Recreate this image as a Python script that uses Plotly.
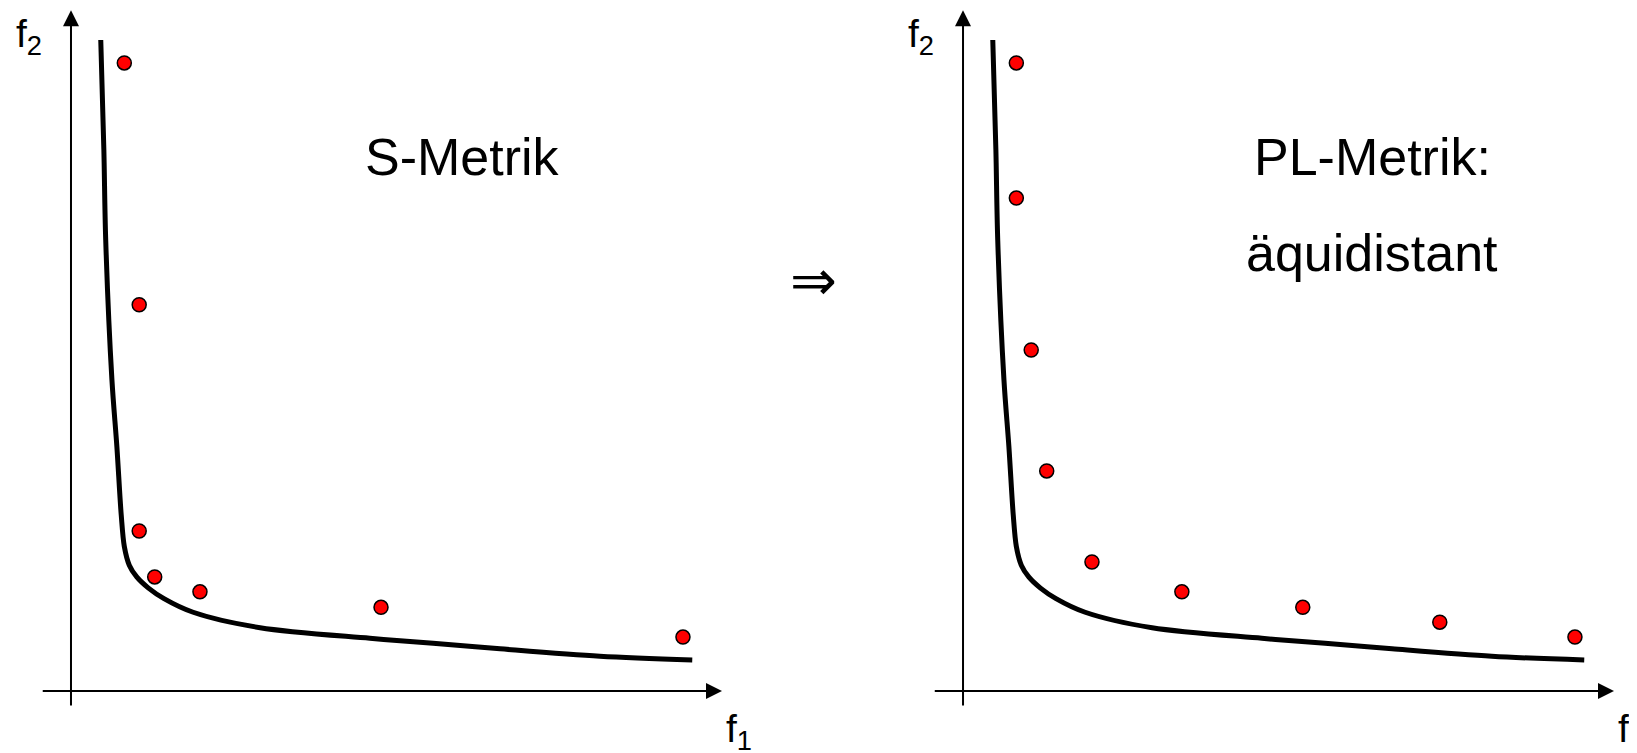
import plotly.graph_objects as go

# Pareto-Front (gleiche Form in beiden Teilbildern), Einheiten: f1 / f2
front_f1 = [0.48, 0.53, 0.56, 0.66, 0.74, 0.81, 0.86, 0.94, 1.06, 1.25, 1.50, 1.97,
            3.05, 4.82, 5.84, 6.92, 8.53, 10.02]
front_f2 = [10.50, 8.73, 7.27, 5.02, 3.94, 2.84, 2.33, 2.03, 1.84, 1.66, 1.49, 1.27,
            1.02, 0.85, 0.77, 0.68, 0.56, 0.50]

# Punkte nach S-Metrik
s_f1 = [0.86, 1.10, 1.10, 1.35, 2.08, 5.00, 9.87]
s_f2 = [10.13, 6.23, 2.58, 1.84, 1.60, 1.35, 0.87]

# Punkte nach PL-Metrik (äquidistant)
pl_f1 = [0.86, 0.86, 1.10, 1.35, 2.08, 3.53, 5.48, 7.69, 9.87]
pl_f2 = [10.13, 7.95, 5.50, 3.55, 2.08, 1.60, 1.35, 1.11, 0.87]

FONT = "Liberation Sans, Arial, sans-serif"

fig = go.Figure()

for xa, ya, px, py in [("x", "y", s_f1, s_f2), ("x2", "y2", pl_f1, pl_f2)]:
    fig.add_trace(go.Scatter(x=front_f1, y=front_f2, mode="lines",
                             line=dict(color="black", width=5, shape="spline", smoothing=0.9),
                             xaxis=xa, yaxis=ya, hoverinfo="skip"))
    fig.add_trace(go.Scatter(x=px, y=py, mode="markers",
                             marker=dict(color="#ff0000", size=14,
                                         line=dict(color="black", width=1.5)),
                             xaxis=xa, yaxis=ya))

annotations = []
for xr, yr, label, lx in [("x", "y", "S-Metrik", 6.32), ("x2", "y2", "PL-Metrik:", 6.6)]:
    # Koordinatenachsen mit Pfeilspitze
    annotations.append(dict(x=10.5, y=0, ax=-0.48, ay=0, xref=xr, yref=yr,
                            axref=xr, ayref=yr, showarrow=True, arrowhead=2,
                            arrowsize=1.6, arrowwidth=2, arrowcolor="black", text=""))
    annotations.append(dict(x=0, y=10.98, ax=0, ay=-0.26, xref=xr, yref=yr,
                            axref=xr, ayref=yr, showarrow=True, arrowhead=2,
                            arrowsize=1.6, arrowwidth=2, arrowcolor="black", text=""))
    annotations.append(dict(x=-0.67, y=10.55, xref=xr, yref=yr, showarrow=False,
                            text="f<sub>2</sub>", font=dict(size=39, family=FONT, color="black")))
    annotations.append(dict(x=10.78, y=-0.66, xref=xr, yref=yr, showarrow=False,
                            text="f<sub>1</sub>", font=dict(size=39, family=FONT, color="black")))
    annotations.append(dict(x=lx, y=8.62, xref=xr, yref=yr, showarrow=False,
                            text=label, font=dict(size=52, family=FONT, color="black")))

annotations.append(dict(x=6.6, y=7.07, xref="x2", yref="y2", showarrow=False,
                        text="äquidistant", font=dict(size=52, family=FONT, color="black")))
annotations.append(dict(x=805 / 1637, y=1 - 272 / 753, xref="paper", yref="paper",
                        showarrow=False,
                        text="⇒", font=dict(size=56, family="DejaVu Sans", color="black")))

hidden = dict(visible=False, showgrid=False, zeroline=False)
fig.update_layout(
    width=1637,
    height=753,
    margin=dict(l=0, r=0, t=0, b=0),
    plot_bgcolor="white",
    paper_bgcolor="white",
    showlegend=False,
    annotations=annotations,
    xaxis=dict(domain=[0, 818 / 1637], range=[-1.016, 12.177], **hidden),
    yaxis=dict(domain=[0, 1], range=[-1.129, 11.016], **hidden),
    xaxis2=dict(domain=[818 / 1637, 1], range=[-2.210, 11.0], **hidden),
    yaxis2=dict(domain=[0, 1], range=[-1.129, 11.016], anchor="x2", **hidden),
)

fig.write_html("out.html")
